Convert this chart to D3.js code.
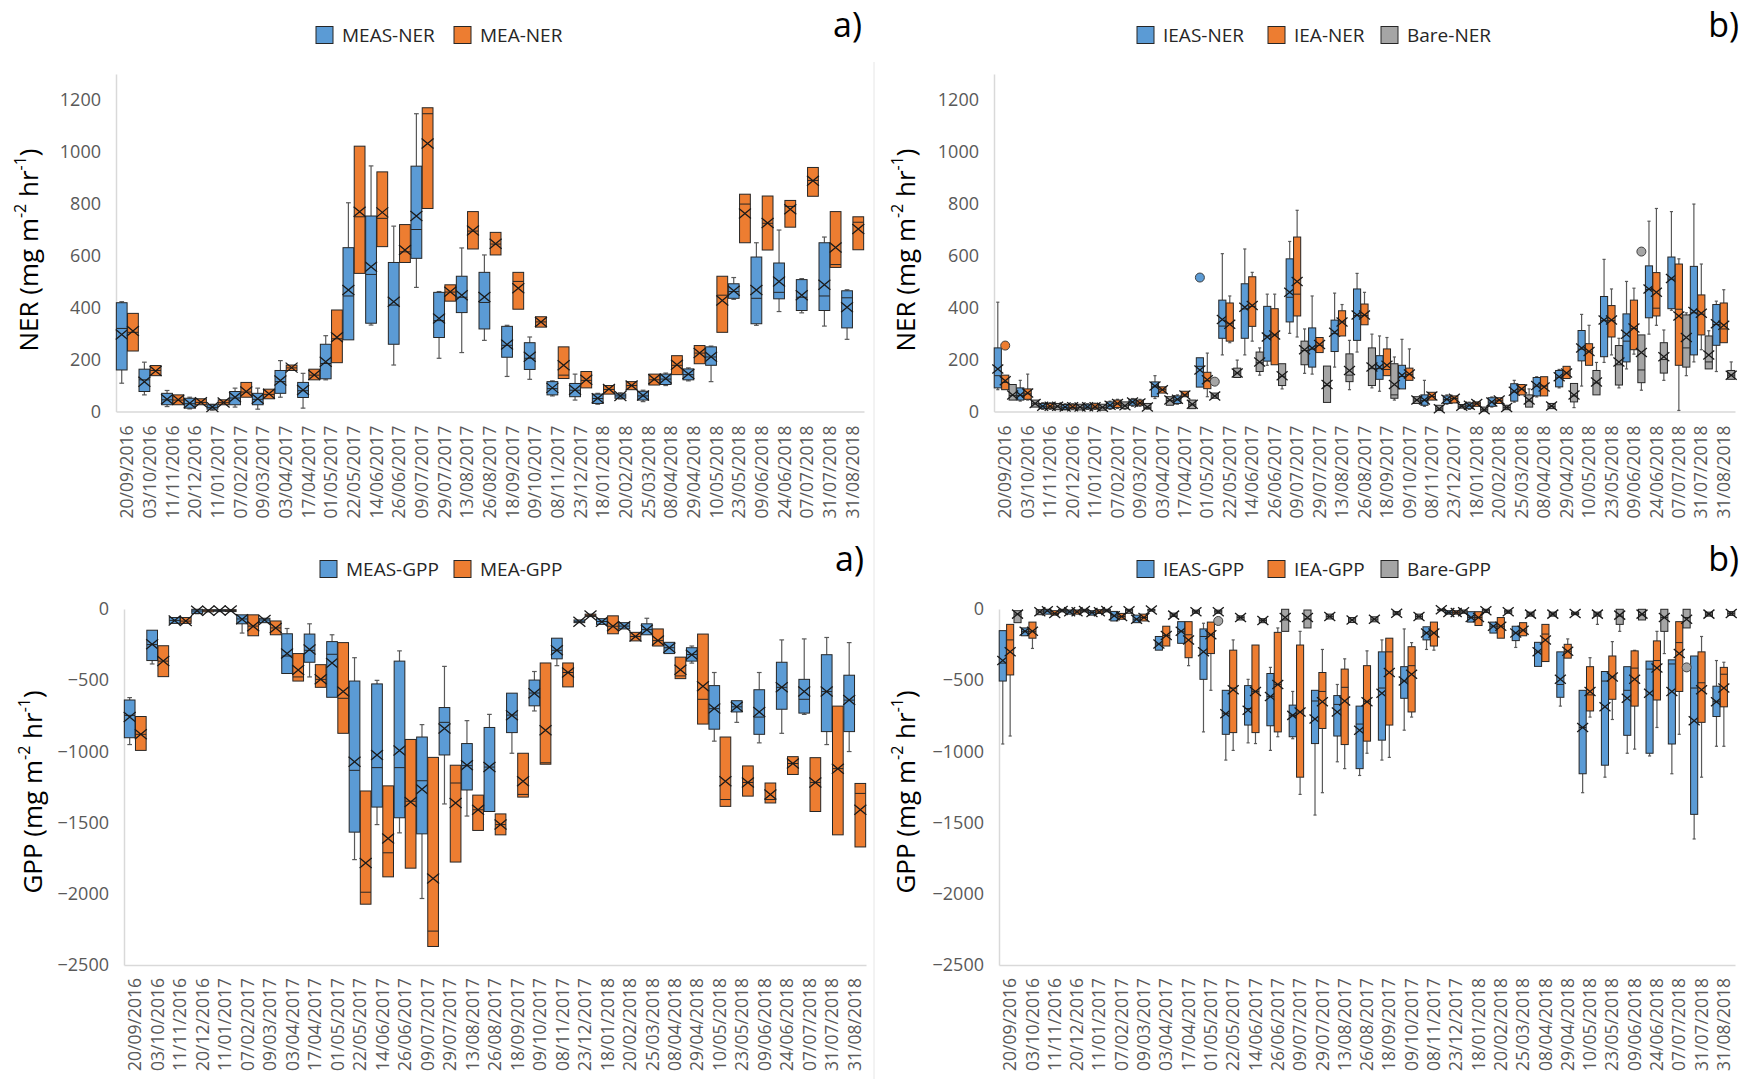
<!DOCTYPE html>
<html>
<head>
<meta charset="utf-8">
<script src="https://cdn.jsdelivr.net/npm/d3@7"></script>
<style>
    body { margin: 0; background: #fff; }
    text { font-family: "Open Sans", "DejaVu Sans", sans-serif; }
</style>
</head>
<body>
<svg id="chart" width="1744" height="1079"></svg>
<script>
const dates = ["20/09/2016","03/10/2016","11/11/2016","20/12/2016","11/01/2017","07/02/2017","09/03/2017",
    "03/04/2017","17/04/2017","01/05/2017","22/05/2017","14/06/2017","26/06/2017","09/07/2017","29/07/2017",
    "13/08/2017","26/08/2017","18/09/2017","09/10/2017","08/11/2017","23/12/2017","18/01/2018","20/02/2018",
    "25/03/2018","08/04/2018","29/04/2018","10/05/2018","23/05/2018","09/06/2018","24/06/2018","07/07/2018",
    "31/07/2018","31/08/2018"];

const nerTicks = [0, 200, 400, 600, 800, 1000, 1200];
const gppTicks = [0, -500, -1000, -1500, -2000, -2500];

// each row: [low whisker, q1, median, q3, high whisker, mean]
const measNer = [[109,160,320,419,423,297],[64,77,122,163,190,115],[19,26,45,70,81,47],[10,13,30,51,55,32],
    [5,9,16,26,28,17],[17,26,52,77,90,55],[9,26,47,70,90,49],[55,70,115,158,196,119],[13,54,80,112,147,83],
    [122,126,185,259,292,192],[276,276,445,631,804,468],[333,340,528,753,946,558],[179,259,410,574,714,423],
    [478,590,701,945,1147,753],[205,285,350,459,462,358],[227,381,440,521,630,448],[274,318,420,536,603,441],
    [135,209,255,328,332,258],[124,162,205,265,287,211],[60,64,88,115,118,91],[44,57,82,108,144,84],
    [28,31,50,67,70,51],[48,51,60,68,72,60],[38,44,60,78,82,62],[100,104,125,144,148,127],[118,122,142,164,168,144],
    [115,178,210,249,252,211],[432,436,462,492,516,465],[332,338,436,595,650,468],[385,434,459,572,699,501],
    [380,389,440,508,512,448],[329,389,445,650,672,488],[278,322,438,465,469,402]];

const meaNer = [[233,233,305,378,378,310],[138,138,158,177,177,156],[26,26,44,64,64,45],[26,26,35,49,49,36],
    [26,26,34,45,45,35],[55,55,75,112,112,77],[49,49,66,86,86,68],[158,158,168,179,179,169],[122,122,140,163,163,141],
    [188,188,280,391,391,286],[532,532,750,1022,1022,769],[635,635,744,923,923,767],[574,574,615,720,720,622],
    [782,782,1147,1170,1170,1032],[425,425,460,488,488,461],[626,626,695,770,770,697],[603,603,645,690,690,646],
    [394,394,501,536,536,475],[325,325,345,365,365,345],[127,127,140,249,249,178],[91,91,120,154,154,122],
    [67,67,85,100,100,87],[84,84,100,115,115,100],[102,102,122,144,144,124],[142,142,178,215,215,180],
    [184,184,225,254,254,225],[305,305,448,521,521,428],[650,650,799,837,837,763],[622,622,725,830,830,726],
    [710,710,790,813,813,779],[829,829,890,940,940,889],[555,555,566,770,770,632],[623,623,729,750,750,703]];

const ieasNer = [[84,91,138,245,421,164],[40,44,62,91,120,64],[8,11,20,31,34,20],[6,8,16,27,30,17],
    [8,10,17,28,30,18],[8,11,22,37,40,24],[20,24,36,47,50,37],[50,57,95,114,138,98],[28,31,45,60,64,47],
    [94,94,174,207,207,160],[218,282,329,429,608,354],[218,282,395,492,626,402],[178,194,291,405,452,287],
    [301,345,440,588,655,459],[144,171,240,322,445,245],[171,231,300,352,456,305],[229,274,370,472,532,372],
    [78,124,165,215,291,171],[87,87,135,178,278,140],[20,24,42,64,120,44],[28,31,46,60,64,47],[8,11,22,33,36,24],
    [17,20,36,53,56,37],[36,40,75,107,120,78],[56,60,98,131,134,100],[91,95,132,158,162,134],[98,195,240,312,374,245],
    [189,211,350,443,586,352],[164,191,271,376,501,298],[298,361,470,561,733,472],[390,396,510,595,770,512],
    [191,218,380,559,799,385],[154,255,335,412,425,338]];

const ieaNer = [[84,84,112,140,140,118],[44,47,68,87,144,71],[8,11,18,31,34,20],[7,10,16,28,30,18],
    [8,10,17,30,32,18],[12,15,30,44,47,31],[20,24,32,44,47,33],[71,71,84,95,95,84],[57,57,64,78,78,64],
    [57,88,118,151,225,122],[265,271,338,418,445,336],[271,328,405,519,536,408],[180,180,295,396,452,295],
    [287,368,452,672,775,501],[227,227,255,285,285,258],[291,291,345,388,412,345],[334,334,370,414,459,372],
    [138,138,162,241,285,178],[120,120,142,167,241,144],[44,44,58,74,74,60],[33,33,50,60,60,51],[20,20,30,37,37,31],
    [31,31,43,53,53,44],[64,64,86,104,104,87],[60,60,98,134,134,94],[127,127,148,174,174,148],[178,178,230,261,332,231],
    [218,287,350,408,472,352],[221,238,320,429,475,322],[332,368,398,535,782,459],[4,178,394,568,588,368],
    [238,295,375,449,568,378],[265,265,318,418,469,332]];

const bareNer = [[44,44,62,104,104,64],[17,17,30,44,44,31],[7,7,18,31,31,20],[6,6,16,28,28,17],[5,5,15,28,28,16],
    [9,11,22,37,37,22],[9,11,16,31,31,17],[24,24,42,57,57,44],[11,11,26,44,44,28],[51,51,60,71,71,60],
    [131,131,148,167,198,148],[140,154,188,229,245,191],[87,100,136,184,184,138],[147,180,235,271,318,238],
    [35,35,100,175,175,104],[84,115,140,222,274,158],[91,100,165,245,298,171],[44,51,64,184,210,104],
    [31,31,44,57,57,44],[4,4,10,24,24,11],[13,13,20,27,27,20],[1,1,7,17,17,7],[7,7,15,24,24,15],[17,17,40,64,87,44],
    [11,11,20,31,31,21],[15,37,60,108,108,64],[64,64,110,158,189,114],[91,102,180,254,282,191],[82,111,160,295,295,227],
    [120,148,200,265,314,211],[138,171,245,372,380,285],[164,164,191,291,311,218],[124,124,140,158,191,140]];

const measGpp = [[-952,-904,-747,-639,-622,-759],[-386,-362,-250,-149,-149,-248],[-101,-101,-80,-60,-60,-80],
    [-33,-31,-14,-2,-2,-12],[-18,-16,-10,-5,-5,-10],[-169,-104,-70,-41,-41,-72],[-96,-96,-77,-65,-65,-77],
    [-453,-453,-330,-174,-137,-313],[-477,-374,-290,-176,-104,-284],[-620,-620,-318,-229,-181,-379],
    [-1760,-1567,-1133,-506,-342,-1073],[-1514,-1391,-1114,-526,-501,-1025],[-1572,-1466,-1114,-366,-294,-993],
    [-2033,-1579,-1206,-899,-812,-1266],[-1369,-1025,-796,-692,-403,-839],[-1454,-1271,-1100,-945,-784,-1097],
    [-1422,-1422,-1110,-832,-740,-1109],[-1013,-868,-745,-591,-591,-747],[-716,-680,-590,-499,-439,-591],
    [-398,-350,-290,-205,-205,-289],[-96,-96,-89,-77,-77,-89],[-108,-108,-88,-68,-68,-89],[-140,-140,-120,-96,-96,-121],
    [-181,-181,-145,-104,-65,-145],[-313,-313,-272,-234,-234,-272],[-380,-366,-320,-272,-260,-321],
    [-928,-844,-700,-538,-446,-699],[-796,-723,-687,-644,-644,-687],[-940,-880,-759,-567,-446,-723],
    [-873,-704,-550,-374,-217,-550],[-740,-731,-634,-494,-210,-579],[-952,-861,-580,-321,-200,-579],
    [-1001,-861,-640,-465,-236,-639]];

const meaGpp = [[-993,-993,-880,-755,-755,-880],[-475,-475,-366,-258,-258,-366],[-101,-101,-85,-60,-60,-85],
    [-20,-20,-12,-5,-5,-12],[-18,-18,-10,-5,-5,-10],[-188,-188,-120,-41,-41,-121],[-181,-181,-133,-84,-84,-133],
    [-506,-506,-477,-313,-313,-429],[-550,-550,-494,-391,-391,-494],[-873,-873,-627,-236,-236,-579],
    [-2073,-2073,-1989,-1278,-1278,-1784],[-1881,-1881,-1712,-1242,-1242,-1611],[-1820,-1820,-1350,-916,-916,-1355],
    [-2370,-2370,-2262,-1042,-1042,-1893],[-1777,-1777,-1222,-1097,-1097,-1362],[-1555,-1555,-1410,-1307,-1307,-1410],
    [-1586,-1586,-1514,-1439,-1439,-1514],[-1321,-1321,-1302,-1013,-1013,-1210],[-1090,-1090,-1080,-379,-379,-851],
    [-547,-547,-446,-379,-379,-446],[-53,-53,-45,-36,-36,-45],[-174,-174,-121,-48,-48,-121],[-224,-224,-193,-164,-164,-193],
    [-260,-260,-222,-140,-140,-222],[-489,-489,-470,-338,-338,-427],[-808,-808,-634,-176,-176,-542],
    [-1386,-1386,-1338,-899,-899,-1210],[-1314,-1314,-1218,-1102,-1102,-1218],[-1362,-1362,-1338,-1222,-1222,-1302],
    [-1162,-1162,-1085,-1037,-1037,-1085],[-1422,-1422,-1218,-1044,-1044,-1218],[-1586,-1586,-1121,-682,-682,-1121],
    [-1671,-1671,-1295,-1225,-1225,-1410]];

const ieasGpp = [[-948,-506,-380,-152,-152,-362],[-188,-188,-157,-133,-133,-157],[-36,-36,-14,-2,-2,-12],
    [-36,-36,-20,-7,-7,-20],[-43,-43,-25,-12,-12,-25],[-84,-84,-48,-17,-17,-48],[-96,-96,-72,-43,-43,-72],
    [-289,-289,-246,-193,-193,-246],[-241,-241,-157,-89,-89,-157],[-863,-494,-193,-140,-100,-301],
    [-1061,-880,-735,-571,-571,-735],[-940,-815,-699,-538,-494,-711],[-993,-820,-615,-453,-410,-615],
    [-911,-897,-747,-675,-579,-747],[-1447,-945,-646,-571,-571,-772],[-1073,-892,-670,-608,-530,-723],
    [-1169,-1121,-808,-682,-682,-851],[-1061,-921,-555,-301,-217,-591],[-851,-627,-506,-405,-140,-506],
    [-284,-217,-169,-125,-125,-169],[-36,-36,-24,-12,-12,-24],[-92,-92,-60,-19,-19,-60],[-169,-169,-121,-92,-92,-121],
    [-270,-222,-169,-121,-121,-169],[-403,-403,-301,-234,-234,-301],[-682,-620,-530,-301,-301,-494],
    [-1290,-1157,-832,-571,-571,-832],[-1181,-1097,-506,-439,-439,-687],[-1013,-887,-571,-405,-405,-627],
    [-1032,-1013,-422,-366,-366,-591],[-1157,-948,-386,-357,-357,-579],[-1615,-1442,-555,-330,-330,-784],
    [-964,-755,-651,-542,-362,-651]];

const ieaGpp = [[-892,-463,-217,-108,-108,-301],[-277,-205,-157,-92,-92,-157],[-43,-43,-31,-12,-12,-31],
    [-36,-36,-20,-7,-7,-20],[-31,-31,-20,-5,-5,-20],[-72,-72,-53,-31,-31,-53],[-84,-84,-60,-36,-36,-60],
    [-260,-260,-186,-121,-121,-186],[-398,-342,-181,-89,-89,-217],[-571,-313,-181,-92,-92,-181],
    [-993,-868,-555,-289,-217,-567],[-945,-868,-579,-253,-253,-579],[-897,-863,-530,-164,-133,-530],
    [-1302,-1181,-723,-253,-157,-723],[-1290,-839,-579,-446,-284,-651],[-1121,-952,-550,-422,-350,-646],
    [-1013,-928,-651,-398,-294,-651],[-1042,-815,-301,-205,-205,-446],[-759,-723,-398,-265,-236,-458],
    [-289,-260,-169,-92,-92,-169],[-36,-36,-24,-12,-12,-24],[-116,-116,-60,-19,-19,-60],[-205,-205,-121,-60,-60,-121],
    [-188,-188,-149,-96,-96,-149],[-369,-369,-176,-108,-108,-217],[-345,-345,-297,-248,-210,-297],
    [-759,-716,-603,-405,-342,-579],[-776,-634,-477,-330,-229,-477],[-984,-682,-415,-294,-290,-494],
    [-832,-639,-362,-224,-157,-415],[-880,-579,-236,-89,-89,-313],[-1181,-796,-518,-301,-193,-567],
    [-964,-687,-458,-410,-374,-555]];

const bareGpp = [[-96,-96,-36,-12,-12,-36],[-40,-40,-20,-5,-5,-20],[-20,-20,-10,-2,-2,-10],[-20,-20,-10,-2,-2,-10],
    [-20,-20,-10,-2,-2,-10],[-30,-30,-12,-2,-2,-12],[-15,-15,-7,-2,-2,-7],[-53,-53,-43,-29,-29,-43],
    [-30,-30,-19,-8,-8,-19],[-30,-30,-19,-8,-8,-19],[-77,-77,-60,-48,-48,-60],[-96,-96,-80,-68,-68,-80],
    [-157,-157,-77,-2,-2,-60],[-133,-133,-70,-7,-7,-60],[-70,-70,-53,-36,-36,-53],[-95,-95,-77,-60,-60,-77],
    [-90,-90,-72,-55,-55,-72],[-40,-40,-29,-18,-18,-29],[-70,-70,-53,-36,-36,-53],[-12,-12,-5,-2,-2,-5],
    [-30,-30,-20,-7,-7,-20],[-25,-25,-12,-2,-2,-12],[-30,-30,-19,-8,-8,-19],[-50,-50,-36,-22,-22,-36],
    [-50,-50,-36,-22,-22,-36],[-40,-40,-31,-22,-22,-31],[-108,-50,-36,-22,-22,-36],[-157,-108,-50,-2,-2,-43],
    [-77,-77,-40,-2,-2,-36],[-313,-157,-60,-2,-2,-60],[-133,-133,-60,-2,-2,-72],[-50,-50,-36,-22,-22,-36],
    [-45,-45,-31,-18,-18,-31]];

// outliers: [category index, value]
const ieasNerOut = [[9, 516]];
const ieaNerOut = [[0, 254]];
const bareNerOut = [[9, 115], [28, 616]];
const bareGppOut = [[9, -84], [30, -410]];

const BLUE = "#5B9BD5", ORANGE = "#ED7D31", GREY = "#A5A5A5";

const svg = d3.select("#chart");

// a faint chart-area edge between left and right charts
svg.append("line")
    .attr("x1", 874).attr("x2", 874).attr("y1", 62).attr("y2", 1079)
    .attr("stroke", "#e6e6e6").attr("stroke-width", 1);

function drawPanel(p) {
    let g = svg.append("g");

    let x = d3.scaleBand().domain(dates).range([p.x0, p.x1]).paddingInner(0).paddingOuter(0);
    let sub = d3.scaleBand().domain(p.series.map(s => s.name))
        .range([0, x.bandwidth()]).paddingInner(0.04).paddingOuter(0.03);
    let y = d3.scaleLinear().domain(p.domain).range([p.yBottom, p.yTop]);

    // y axis
    let ya = g.append("g")
        .attr("transform", `translate(${p.x0},0)`)
        .call(d3.axisLeft(y).tickValues(p.ticks).tickFormat(d3.format("d"))
            .tickSize(0).tickSizeOuter(0).tickPadding(15));
    ya.select(".domain").attr("stroke", "#d9d9d9").attr("stroke-width", 1.5);
    ya.selectAll("text")
        .style("font-size", "18px")
        .style("font-family", "'Open Sans', sans-serif")
        .attr("fill", "#595959");

    // x axis
    let xa = g.append("g")
        .attr("transform", `translate(0,${p.yBottom})`)
        .call(d3.axisBottom(x).tickSize(0).tickSizeOuter(0));
    xa.select(".domain").attr("stroke", "#d9d9d9").attr("stroke-width", 1.5);
    xa.selectAll("text")
        .attr("transform", "rotate(-90)")
        .attr("text-anchor", "end")
        .attr("x", -p.labelGap)
        .attr("y", 0)
        .attr("dy", "0.35em")
        .style("font-size", "17.5px")
        .style("font-family", "'Open Sans', sans-serif")
        .attr("fill", "#595959");

    // boxes
    p.series.forEach(function(s) {
        let w = sub.bandwidth();
        let sg = g.append("g");
        s.data.forEach(function(d, i) {
            let bx = x(dates[i]) + sub(s.name);
            let cx = bx + w / 2;
            let cap = w * 0.22;
            let bg = sg.append("g");

            if (d[0] < d[1]) {
                bg.append("line").attr("x1", cx).attr("x2", cx).attr("y1", y(d[0])).attr("y2", y(d[1]))
                    .attr("stroke", "#595959").attr("stroke-width", 1.2);
                bg.append("line").attr("x1", cx - cap).attr("x2", cx + cap).attr("y1", y(d[0])).attr("y2", y(d[0]))
                    .attr("stroke", "#595959").attr("stroke-width", 1.2);
            }
            if (d[4] > d[3]) {
                bg.append("line").attr("x1", cx).attr("x2", cx).attr("y1", y(d[3])).attr("y2", y(d[4]))
                    .attr("stroke", "#595959").attr("stroke-width", 1.2);
                bg.append("line").attr("x1", cx - cap).attr("x2", cx + cap).attr("y1", y(d[4])).attr("y2", y(d[4]))
                    .attr("stroke", "#595959").attr("stroke-width", 1.2);
            }
            bg.append("rect")
                .attr("x", bx).attr("width", w)
                .attr("y", y(d[3])).attr("height", Math.max(1, y(d[1]) - y(d[3])))
                .attr("fill", s.color)
                .attr("stroke", "#262626").attr("stroke-width", 1);
            bg.append("line").attr("x1", bx).attr("x2", bx + w).attr("y1", y(d[2])).attr("y2", y(d[2]))
                .attr("stroke", "#262626").attr("stroke-width", 1);

            // mean marker
            let my = y(d[5]), mx = p.markX, mh = p.markY;
            bg.append("path")
                .attr("d", `M${cx - mx},${my - mh}L${cx + mx},${my + mh}M${cx - mx},${my + mh}L${cx + mx},${my - mh}`)
                .attr("stroke", "#1a1a1a").attr("stroke-width", 1.3).attr("fill", "none");
        });

        (s.out || []).forEach(function(o) {
            sg.append("circle")
                .attr("cx", x(dates[o[0]]) + sub(s.name) + w / 2)
                .attr("cy", y(o[1]))
                .attr("r", 4.5)
                .attr("fill", s.color)
                .attr("stroke", "#404040").attr("stroke-width", 1);
        });
    });

    // axis title
    let t = g.append("text")
        .attr("transform", `translate(${p.titleX},${p.titleY}) rotate(-90)`)
        .attr("text-anchor", "middle")
        .style("font-size", "26px")
        .attr("fill", "#000");
    t.append("tspan").text(p.title + " (mg m");
    t.append("tspan").text("-2").style("font-size", "16px").attr("dy", "-0.75em");
    t.append("tspan").text(" hr").attr("dy", "0.46em");
    t.append("tspan").text("-1").style("font-size", "16px").attr("dy", "-0.75em");
    t.append("tspan").text(")").attr("dy", "0.46em");

    // legend
    p.series.forEach(function(s, k) {
        let lx = p.legendX[k];
        g.append("rect")
            .attr("x", lx).attr("y", p.legendY - 8.5)
            .attr("width", 17).attr("height", 17)
            .attr("fill", s.color).attr("stroke", "#262626").attr("stroke-width", 1);
        g.append("text")
            .attr("x", lx + 26).attr("y", p.legendY)
            .attr("dy", "0.35em")
            .style("font-size", "19px")
            .attr("fill", "#262626")
            .text(s.name);
    });

    // panel tag
    g.append("text")
        .attr("x", p.tagX).attr("y", p.tagY)
        .attr("text-anchor", "end")
        .style("font-size", "34px")
        .attr("fill", "#000")
        .text(p.tag);
}

drawPanel({
    x0: 116, x1: 864, yBottom: 411.5, yTop: 74, domain: [0, 1300], ticks: nerTicks,
    labelGap: 14, markX: 6, markY: 5,
    series: [
        {name: "MEAS-NER", color: BLUE, data: measNer},
        {name: "MEA-NER", color: ORANGE, data: meaNer}
    ],
    title: "NER", titleX: 38, titleY: 250,
    legendX: [316, 454], legendY: 35,
    tag: "a)", tagX: 862, tagY: 37
});

drawPanel({
    x0: 994, x1: 1735, yBottom: 411.5, yTop: 74, domain: [0, 1300], ticks: nerTicks,
    labelGap: 14, markX: 5.5, markY: 4.5,
    series: [
        {name: "IEAS-NER", color: BLUE, data: ieasNer, out: ieasNerOut},
        {name: "IEA-NER", color: ORANGE, data: ieaNer, out: ieaNerOut},
        {name: "Bare-NER", color: GREY, data: bareNer, out: bareNerOut}
    ],
    title: "NER", titleX: 915, titleY: 250,
    legendX: [1137, 1268, 1381], legendY: 35,
    tag: "b)", tagX: 1739, tagY: 37
});

drawPanel({
    x0: 124, x1: 866, yBottom: 965, yTop: 609, domain: [-2500, 0], ticks: gppTicks,
    labelGap: 13, markX: 6, markY: 5,
    series: [
        {name: "MEAS-GPP", color: BLUE, data: measGpp},
        {name: "MEA-GPP", color: ORANGE, data: meaGpp}
    ],
    title: "GPP", titleX: 42, titleY: 792,
    legendX: [320, 454], legendY: 569,
    tag: "a)", tagX: 864, tagY: 571
});

drawPanel({
    x0: 999, x1: 1735, yBottom: 965, yTop: 609, domain: [-2500, 0], ticks: gppTicks,
    labelGap: 13, markX: 5.5, markY: 4.5,
    series: [
        {name: "IEAS-GPP", color: BLUE, data: ieasGpp},
        {name: "IEA-GPP", color: ORANGE, data: ieaGpp},
        {name: "Bare-GPP", color: GREY, data: bareGpp, out: bareGppOut}
    ],
    title: "GPP", titleX: 915, titleY: 792,
    legendX: [1137, 1268, 1381], legendY: 569,
    tag: "b)", tagX: 1739, tagY: 571
});
</script>
</body>
</html>
